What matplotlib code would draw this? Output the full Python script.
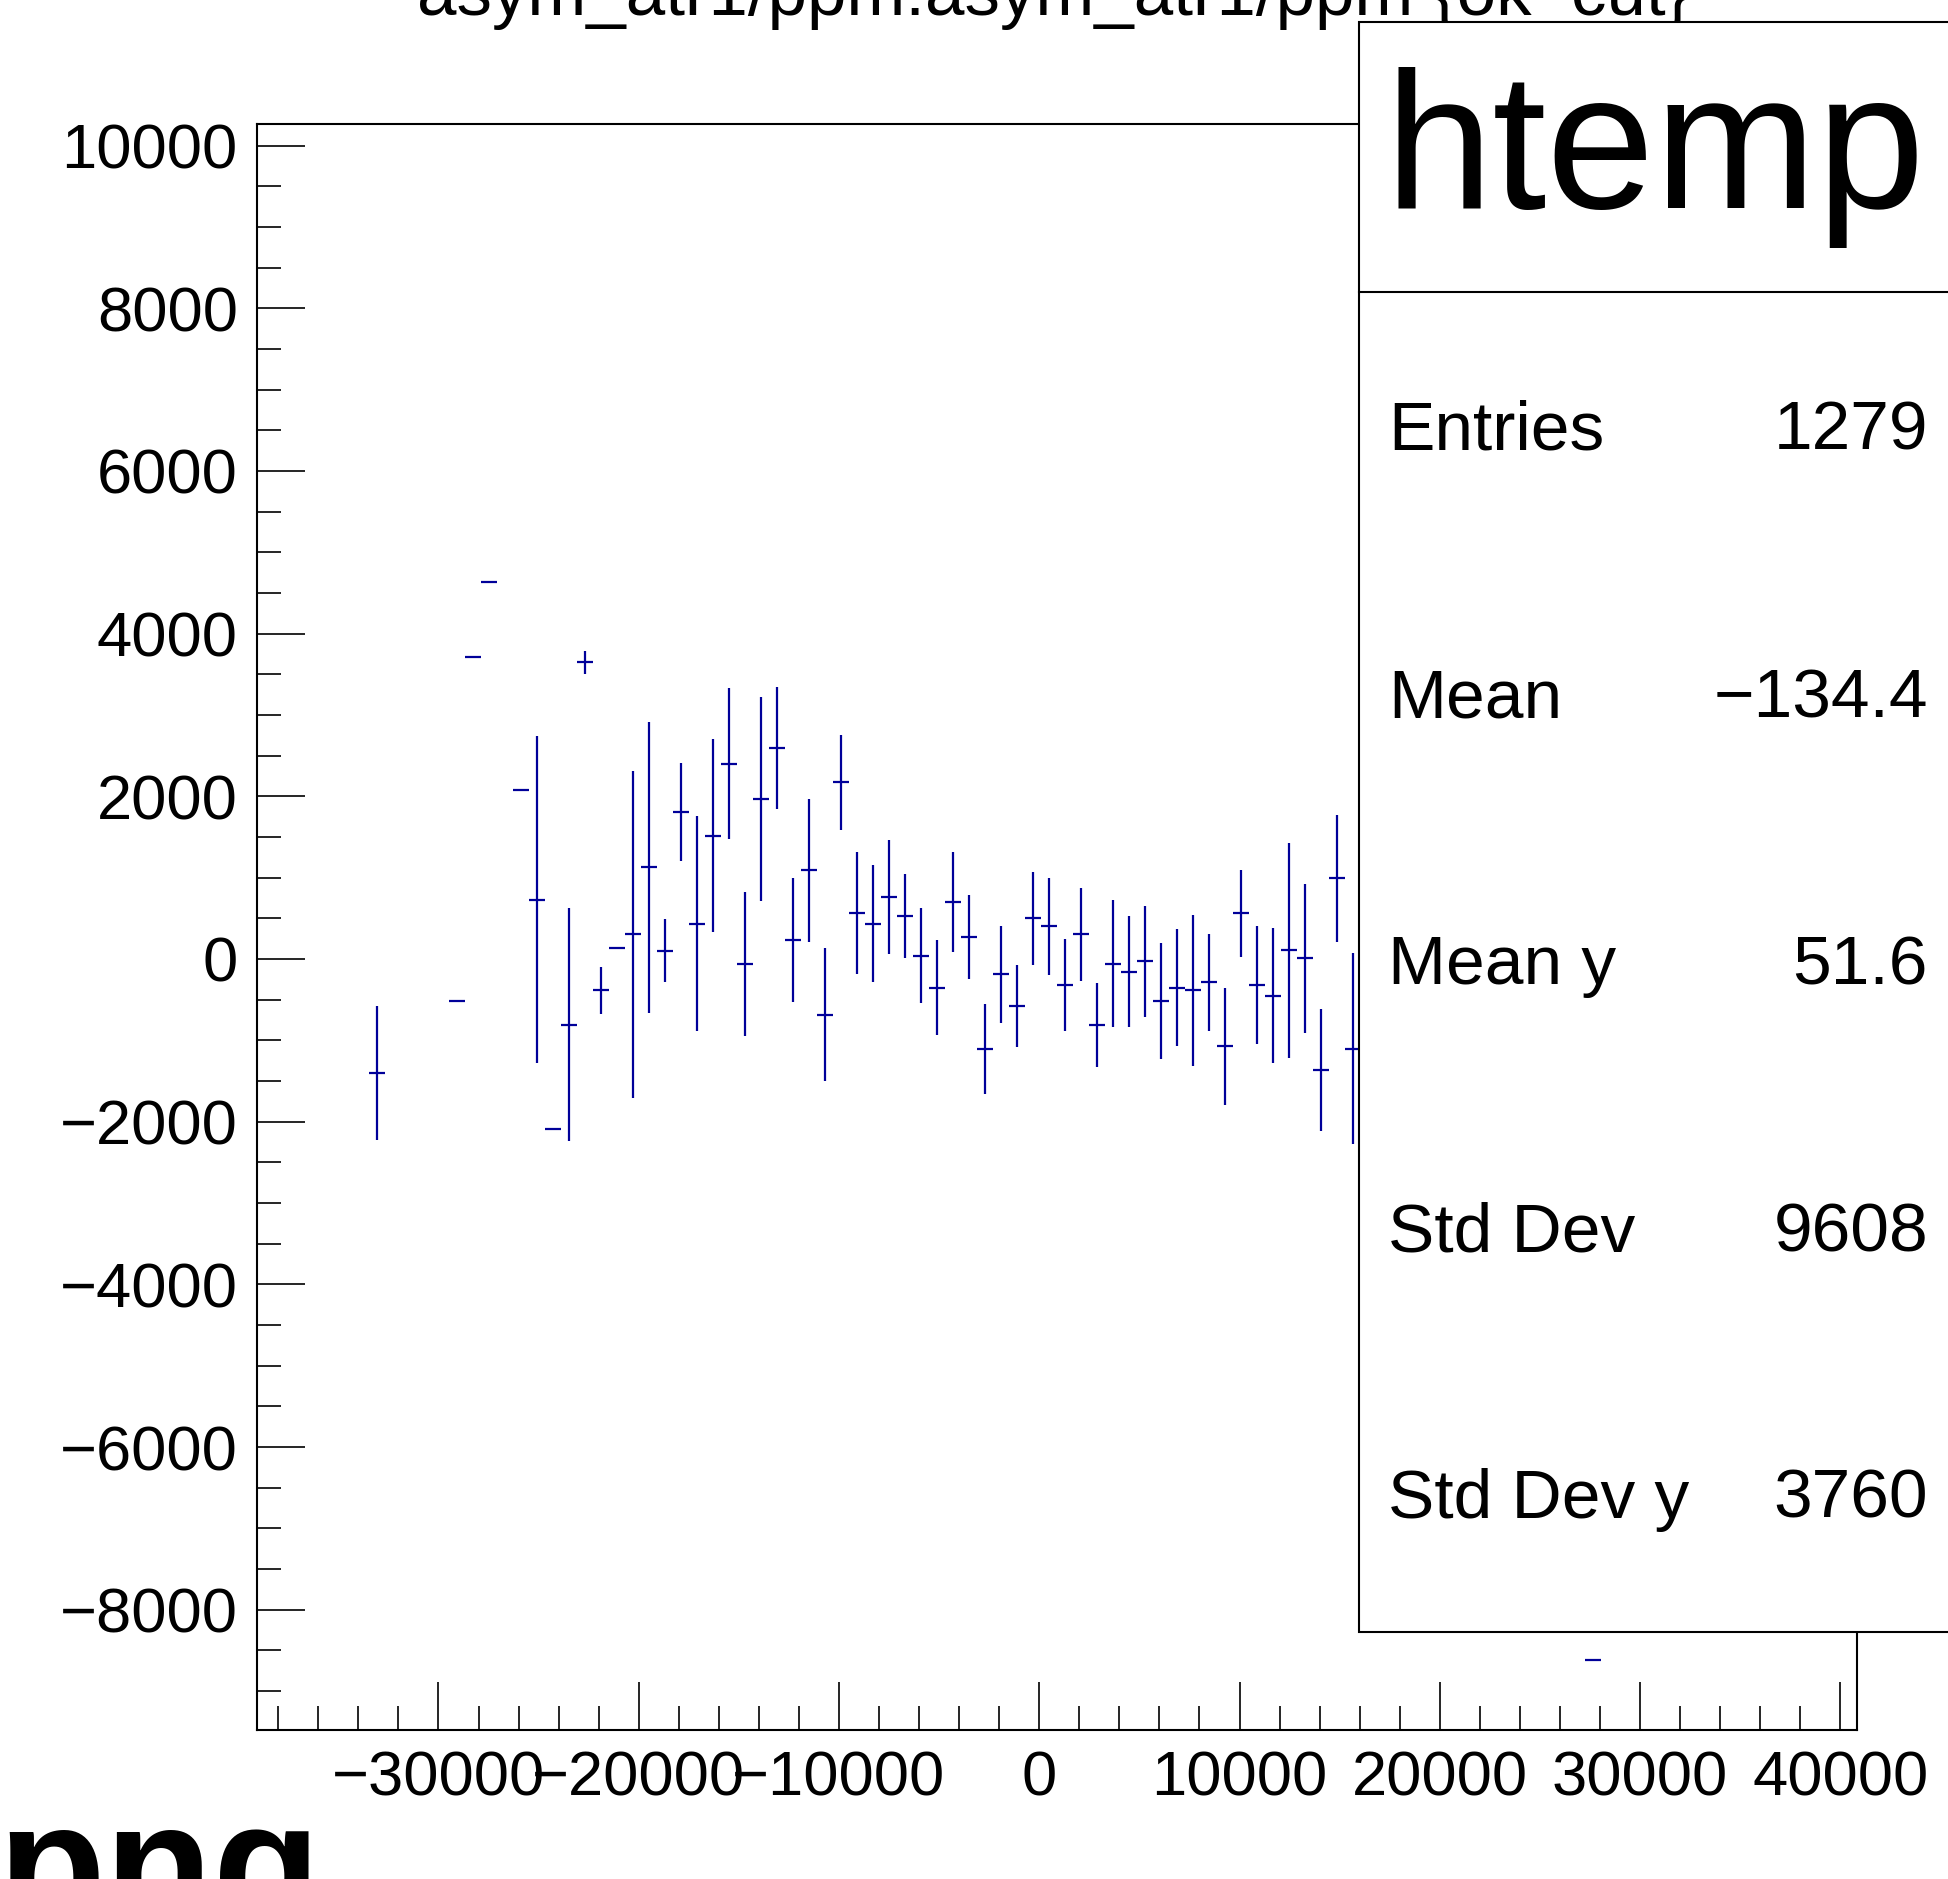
import matplotlib
matplotlib.use('Agg')
import matplotlib.pyplot as plt
from matplotlib.ticker import MultipleLocator
from matplotlib.patches import Rectangle
from matplotlib.lines import Line2D

W, H = 1949, 1879
DPI = 100

plt.rcParams['font.family'] = ['Liberation Sans', 'DejaVu Sans']

titulo = 'asym_atr1/ppm:asym_atr1/ppm {ok_cut}'

# perfil: centro do bin, media em y e erro da media
x_centros = [-33055, -29061, -28263, -27464, -25866, -25068, -24269, -23470,
             -22672, -21873, -21074, -20276, -19477, -18678, -17879, -17081,
             -16282, -15483, -14685, -13886, -13087, -12289, -11490, -10691,
             -9892, -9094, -8295, -7496, -6698, -5899, -5100, -4302,
             -3503, -2704, -1905, -1107, -308, 491, 1289, 2088,
             2887, 3685, 4484, 5283, 6082, 6880, 7679, 8478,
             9276, 10075, 10874, 11672, 12471, 13270, 14069, 14867,
             15666, 27645]
y_medias = [-1403, -519, 3710, 4630, 2073, 731, -2094, -810,
            3647, -382, 138, 304, 1125, 103, 1810, 434,
            1518, 2398, -61, 1971, 2598, 235, 1090, -683,
            2170, 565, 434, 762, 533, 41, -352, 697,
            270, -1106, -189, -578, 500, 401, -320, 303,
            -811, -57, -156, -25, -516, -352, -385, -287,
            -1074, 565, -320, -451, 107, 8, -1368, 992,
            -1106, -8617]
y_erros = [826, 0, 0, 0, 0, 2007, 0, 1433,
           141, 289, 0, 2007, 1794, 389, 603, 1322,
           1191, 928, 880, 1254, 749, 763, 882, 814,
           586, 746, 719, 699, 518, 584, 584, 617,
           520, 549, 600, 502, 568, 600, 568, 568,
           518, 781, 682, 682, 715, 715, 928, 600,
           715, 535, 731, 830, 1321, 912, 748, 781,
           1174, 0]
meia_largura = 399

stats_rotulos = ['Entries', 'Mean', 'Mean y', 'Std Dev', 'Std Dev y']
stats_valores = ['1279', '\u2212134.4', '51.6', '9608', '3760']


def fx(p):
    return p / W


def fy(p):
    return 1 - p / H


fig = plt.figure(figsize=(W / DPI, H / DPI), dpi=DPI)
ax = fig.add_axes([fx(257.3), fy(1730), (1857 - 257.3) / W, (1730 - 124.3) / H])

ax.errorbar(x_centros, y_medias, xerr=meia_largura, yerr=y_erros, fmt='none',
            ecolor='#000099', elinewidth=1.6, capsize=0)

ax.set_xlim(-39045, 40830)
ax.set_ylim(-9478, 10261)
ax.xaxis.set_major_locator(MultipleLocator(10000))
ax.xaxis.set_minor_locator(MultipleLocator(2000))
ax.yaxis.set_major_locator(MultipleLocator(2000))
ax.yaxis.set_minor_locator(MultipleLocator(500))
ax.tick_params(which='both', direction='in', top=False, right=False,
               width=1.2, labelsize=45.5)
ax.tick_params(axis='y', pad=14)
ax.tick_params(axis='x', pad=14)
ax.tick_params(which='major', length=34.5)
ax.tick_params(which='minor', length=17.3)
for s in ax.spines.values():
    s.set_linewidth(1.5)

fig.text(fx(1053.5), fy(15), titulo, ha='center', va='baseline', fontsize=51)

# caixa de estatisticas
caixa = Rectangle((fx(1358.6), fy(1632)), fx(1965) - fx(1358.6), (1632 - 22.4) / H,
                  transform=fig.transFigure, facecolor='white', edgecolor='black',
                  linewidth=1.5, zorder=5)
fig.add_artist(caixa)
fig.add_artist(Line2D([fx(1358.6), fx(1965)], [fy(292), fy(292)],
                      transform=fig.transFigure, color='black', lw=1.5, zorder=6))
fig.text(fx(1655), fy(208), 'htemp', ha='center', va='baseline', fontsize=140, zorder=7)
for i, (rot, val) in enumerate(zip(stats_rotulos, stats_valores)):
    yb = 450 + 267 * i
    fig.text(fx(1388), fy(yb), rot, ha='left', va='baseline', fontsize=50, zorder=7)
    fig.text(fx(1928), fy(yb), val, ha='right', va='baseline', fontsize=50, zorder=7)

fig.text(fx(-3), fy(1925), 'png', ha='left', va='baseline', fontsize=127,
         fontweight='bold')

fig.savefig('out.png', dpi=DPI)
